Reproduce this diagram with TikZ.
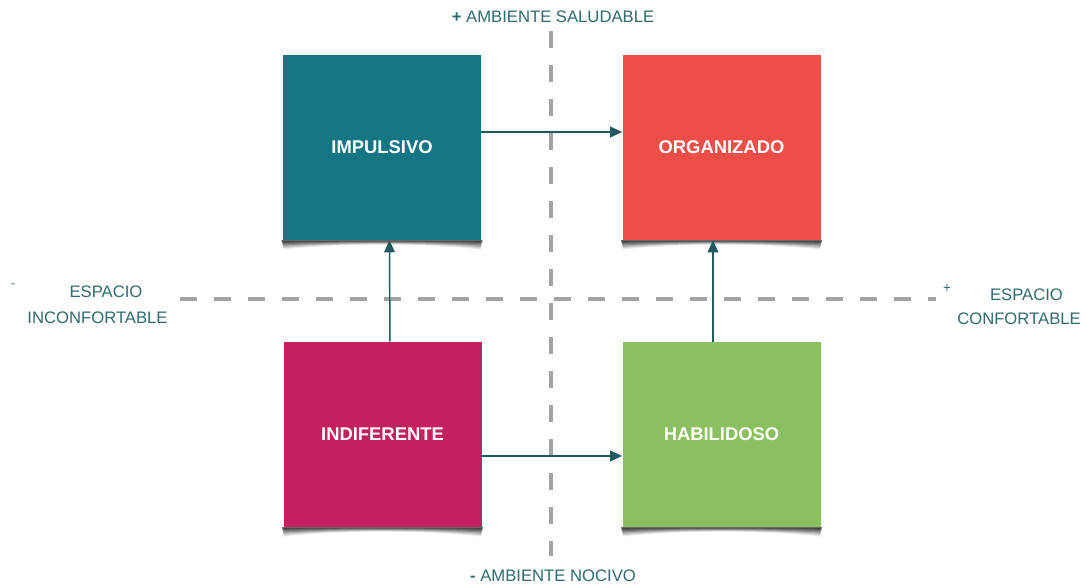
\documentclass[tikz,border=0pt]{standalone}
\usepackage{fontspec}
\setmainfont{Liberation Sans}
\usetikzlibrary{arrows.meta}
\definecolor{impc}{HTML}{137682}
\definecolor{orgc}{HTML}{EF4D47}
\definecolor{indc}{HTML}{C41F5E}
\definecolor{habc}{HTML}{8BC060}
\definecolor{txtc}{HTML}{2E6A6E}
\definecolor{arrc}{HTML}{1F5A60}
\definecolor{dashc}{HTML}{A4A4A4}
\tikzset{
  box/.style={minimum width=148.5pt,minimum height=138.75pt,inner sep=0pt,
    text=white,font=\fontsize{13.8}{16}\selectfont\bfseries},
  axis/.style={draw=dashc,line width=2.5pt,dash pattern=on 12.75pt off 12.75pt},
  conn/.style={draw=arrc,line width=1.1pt,-{Triangle[length=9pt,width=8pt]}},
  lab/.style={text=txtc,font=\fontsize{12.5}{15}\selectfont,inner sep=0pt},
  sgn/.style={text=txtc,font=\fontsize{9}{10}\selectfont,inner sep=0pt}
}
\newcommand\boxcurl[1]{%
  \foreach \d/\o in {7/0.08,6/0.12,5/0.15,4/0.18,3/0.22,2/0.25,1/0.3}{%
    \fill[black,opacity=\o] ([xshift=-1pt]#1.south west)
      -- ([xshift=0.5pt,yshift=-\d pt]#1.south west)
      .. controls ([xshift=-35pt,yshift=-0.3*\d pt]#1.south) and ([xshift=35pt,yshift=-0.3*\d pt]#1.south)
      .. ([xshift=-0.5pt,yshift=-\d pt]#1.south east)
      -- ([xshift=1pt]#1.south east) -- cycle;
  }%
}
\begin{document}
\begin{tikzpicture}[x=0.75pt,y=-0.75pt]
\useasboundingbox (0,0) rectangle (1086,588);
% axes
\coordinate (vt) at (551,31);
\coordinate (vb) at (551,556);
\coordinate (hl) at (180,299);
\coordinate (hr) at (936,299);
\draw[axis] (vt) -- (vb);
\draw[axis] (hl) -- (hr);
% boxes
\node[box,fill=impc] (imp) at (382,147.5) {IMPULSIVO};
\node[box,fill=orgc] (org) at (721.5,147.5) {ORGANIZADO};
\node[box,fill=indc] (ind) at (382.5,434.5) {INDIFERENTE};
\node[box,fill=habc] (hab) at (721.5,434.5) {HABILIDOSO};
\boxcurl{imp}
\boxcurl{org}
\boxcurl{ind}
\boxcurl{hab}
% connectors
\draw[conn] ([yshift=11.6pt]imp.east) -- ([yshift=11.6pt]org.west);
\draw[conn] ([yshift=-16.1pt]ind.east) -- ([yshift=-16.1pt]hab.west);
\draw[conn] ([xshift=5.6pt]ind.north) -- ([xshift=5.6pt]imp.south);
\draw[conn] ([xshift=-6.4pt]hab.north) -- ([xshift=-6.4pt]org.south);
% labels
\node[lab] (top) at (553,17) {\textbf{+} AMBIENTE SALUDABLE};
\node[lab] (bot) at (553,576) {\textbf{-} AMBIENTE NOCIVO};
\node[lab] (left1) at (106,292) {ESPACIO};
\node[lab] (left2) at (97.5,318) {INCONFORTABLE};
\node[lab] (right1) at (1026.5,295) {ESPACIO};
\node[lab] (right2) at (1019,319) {CONFORTABLE};
\node[sgn] (lm) at (13,286) {-};
\node[sgn,font=\fontsize{10}{11}\selectfont] (rp) at (947,289) {+};
\end{tikzpicture}
\end{document}
